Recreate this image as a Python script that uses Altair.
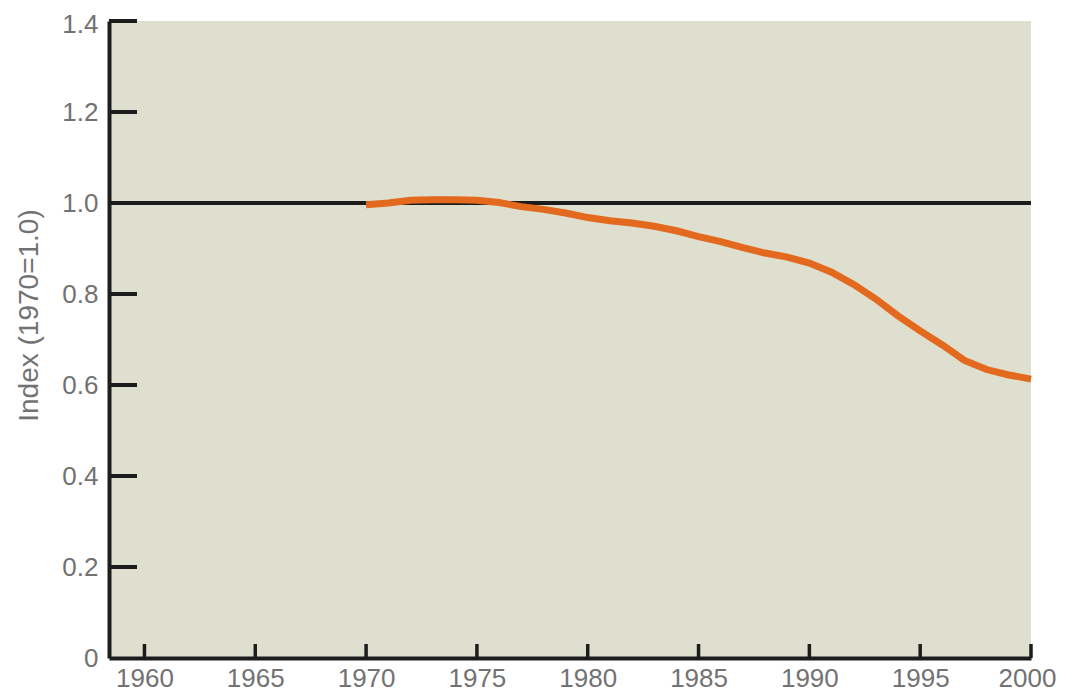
import altair as alt
import pandas as pd

# ---- data ----
years = list(range(1970, 2001))
index_values = [0.996, 1.000, 1.006, 1.007, 1.007, 1.006, 1.001, 0.992, 0.986, 0.978,
                0.968, 0.961, 0.956, 0.949, 0.939, 0.926, 0.915, 0.902, 0.890, 0.881,
                0.868, 0.848, 0.821, 0.789, 0.752, 0.719, 0.688, 0.654, 0.634, 0.622,
                0.613]
x_tick_years = [1960, 1965, 1970, 1975, 1980, 1985, 1990, 1995, 2000]
y_tick_values = [0.0, 0.2, 0.4, 0.6, 0.8, 1.0, 1.2, 1.4]
reference_level = [1.0]

W, H = 922, 637
BG = "#dedfcf"
INK = "#1c1c1c"
ORANGE = "#e2691d"
LABEL = "#727272"
YTITLE = "Index (1970=1.0)"

line_df = pd.DataFrame({"year": years, "value": index_values})
xt_df = pd.DataFrame({"year": x_tick_years})
yt_df = pd.DataFrame({"value": [v for v in y_tick_values if v > 0]})
ref_df = pd.DataFrame({"value": reference_level})

xscale = alt.Scale(domain=[1958.4, 2000], nice=False, zero=False)
yscale = alt.Scale(domain=[0, 1.4], nice=False)

xaxis = alt.Axis(values=x_tick_years, format="d", labelPadding=7, labelFontSize=26,
                 labelOffset={"condition": {"test": "datum.value == 2000", "value": -4},
                              "value": 0},
                 labelFlush=False, labelOverlap=False)
yaxis = alt.Axis(values=y_tick_values, labelPadding=11, labelFontSize=26,
                 labelOffset={"condition": {"test": "datum.value >= 1.39", "value": 3},
                              "value": 0},
                 labelExpr="datum.value == 0 ? '0' : format(datum.value, '.1f')",
                 labelFlush=False, labelOverlap=False,
                 titleAngle=270, titleX=-80, titleY=294,
                 titleAlign="center", titleBaseline="middle")


def X():
    return alt.X("year:Q", scale=xscale, title=None, axis=xaxis)


def Y():
    return alt.Y("value:Q", scale=yscale, title=YTITLE, axis=yaxis)


line = alt.Chart(line_df).mark_line(color=ORANGE, strokeWidth=7, strokeCap="butt").encode(
    x=X(), y=Y(),
)

ref_rule = alt.Chart(ref_df).mark_rule(color=INK, strokeWidth=4).encode(
    y=Y(),
)

xticks = alt.Chart(xt_df).mark_rule(color=INK, strokeWidth=3.5).encode(
    x=X(),
    y=alt.value(H),
    y2=alt.value(H - 14),
)

yticks = alt.Chart(yt_df).mark_rule(color=INK, strokeWidth=4).encode(
    y=Y(),
    x=alt.value(0),
    x2=alt.value(28),
)

chart = alt.layer(ref_rule, xticks, yticks, line).properties(
    width=W, height=H,
    autosize=alt.AutoSizeParams(type="none"),
    padding={"left": 101, "top": 13, "right": 26, "bottom": 33},
    background="white",
).configure_view(
    fill=BG, strokeWidth=0
).configure_axis(
    domainWidth=4, domainColor=INK, ticks=False, tickSize=0, grid=False,
    labelFont="Liberation Sans", labelFontSize=27, labelColor=LABEL,
    titleFont="Liberation Sans", titleFontSize=28, titleColor=LABEL,
    titleFontWeight="normal",
)

chart.save("out.html", embed_options={"renderer": "svg", "actions": False})
